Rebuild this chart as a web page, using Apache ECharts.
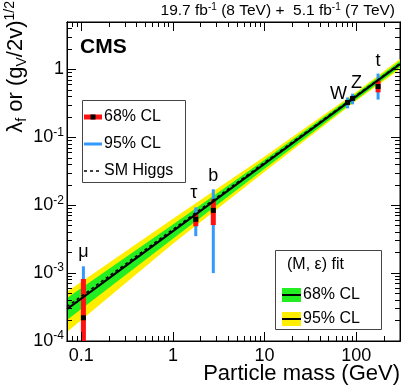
<!DOCTYPE html>
<html>
<head>
<meta charset="utf-8">
<script src="https://cdn.jsdelivr.net/npm/echarts@6/dist/echarts.min.js"></script>
<style>
  html, body { margin: 0; padding: 0; background: #fff; }
  #chart { width: 403px; height: 389px; }
</style>
</head>
<body>
<div id="chart"></div>
<script>
// particle points
var particles = ['μ', 'τ', 'b', 'W', 'Z', 't'];
var masses    = [0.1057, 1.777, 2.76, 80.4, 91.2, 173];
var central   = [2.2e-4, 6.2e-3, 8.4e-3, 0.327, 0.375, 0.56];
var lo68      = [5e-5, 4.9e-3, 5.1e-3, 0.315, 0.36, 0.46];
var hi68      = [8.2e-4, 7.6e-3, 1.22e-2, 0.34, 0.39, 0.69];
var lo95      = [5e-5, 3.5e-3, 1.0e-3, 0.267, 0.306, 0.36];
var hi95      = [1.26e-3, 9.3e-3, 1.72e-2, 0.387, 0.44, 0.87];

// (M, eps) fit bands
var bandX  = [0.07, 1, 10, 100, 300];
var yelHi  = [5.3e-4, 6.3e-3, 0.052, 0.465, 1.42];
var yelLo  = [1.36e-4, 2.7e-3, 0.031, 0.345, 1.01];
var grnHi  = [4.3e-4, 5.2e-3, 0.0466, 0.443, 1.33];
var grnLo  = [2.04e-4, 3.2e-3, 0.0345, 0.362, 1.08];

// lines
var lineX  = [0.07, 300];
var fitY   = [2.95e-4, 1.2];
var smY    = [3.2e-4, 1.22];

// axes
var xMajor = [0.1, 1, 10, 100];
var xMinor = [0.07, 0.08, 0.09, 0.2, 0.3, 0.4, 0.5, 0.6, 0.7, 0.8, 0.9,
              2, 3, 4, 5, 6, 7, 8, 9, 20, 30, 40, 50, 60, 70, 80, 90, 200, 300];
var yMajor = [1e-4, 1e-3, 1e-2, 1e-1, 1];
var yMinor = [2e-4, 3e-4, 4e-4, 5e-4, 6e-4, 7e-4, 8e-4, 9e-4,
              2e-3, 3e-3, 4e-3, 5e-3, 6e-3, 7e-3, 8e-3, 9e-3,
              0.02, 0.03, 0.04, 0.05, 0.06, 0.07, 0.08, 0.09,
              0.2, 0.3, 0.4, 0.5, 0.6, 0.7, 0.8, 0.9, 2, 3, 4, 5];

var FONT = '"Liberation Sans", Arial, Helvetica, sans-serif';

var dom = document.getElementById('chart');
var myChart = echarts.init(dom);

function pairs(xs, ys) {
  var out = [];
  for (var i = 0; i < xs.length; i++) out.push([xs[i], ys[i]]);
  return out;
}

function bandSeries(hi, lo, color) {
  return {
    type: 'custom',
    clip: true,
    silent: true,
    data: [[bandX[0], hi[0]]],
    renderItem: function (params, api) {
      var pts = [];
      for (var i = 0; i < bandX.length; i++) pts.push(api.coord([bandX[i], hi[i]]));
      for (var j = bandX.length - 1; j >= 0; j--) pts.push(api.coord([bandX[j], lo[j]]));
      return { type: 'polygon', shape: { points: pts }, style: { fill: color } };
    }
  };
}

function barSeries(lo, hi, color, width) {
  return {
    type: 'custom',
    clip: true,
    silent: true,
    data: masses.map(function (m, i) { return [m, lo[i], hi[i]]; }),
    renderItem: function (params, api) {
      var a = api.coord([api.value(0), api.value(1)]);
      var b = api.coord([api.value(0), api.value(2)]);
      return { type: 'line', shape: { x1: a[0], y1: a[1], x2: b[0], y2: b[1] },
               style: { stroke: color, lineWidth: width } };
    }
  };
}

// pixel nudges for the particle names (relative to top of the 95% bar)
var labelOffsets = [[0, -5], [-2, -5], [0, -4], [-9, 6], [4, -2], [0, -4]];

function xAxisDef(pos, labels, ticks, len) {
  return {
    type: 'log', min: 0.07, max: 300, position: pos, z: 5,
    axisLine: { show: true, lineStyle: { color: '#000', width: 1 } },
    axisTick: { show: true, inside: true, length: len, customValues: ticks,
                lineStyle: { color: '#000', width: 1 } },
    axisLabel: labels ? { show: true, customValues: xMajor, margin: 6,
                          fontFamily: FONT, fontSize: 18, color: '#000' } : { show: false },
    splitLine: { show: false }
  };
}

function yAxisDef(pos, labels, ticks, len) {
  return {
    type: 'log', min: 1e-4, max: 5, position: pos, z: 5,
    axisLine: { show: true, lineStyle: { color: '#000', width: 1 } },
    axisTick: { show: true, inside: true, length: len, customValues: ticks,
                lineStyle: { color: '#000', width: 1 } },
    axisLabel: labels ? {
      show: true, customValues: yMajor, margin: 3, color: '#000',
      fontFamily: FONT, fontSize: 18,
      formatter: function (v) {
        if (Math.abs(v - 1) < 1e-9) return '{b|1}';
        var e = Math.round(Math.log(v) / Math.LN10);
        return '{b|10}{s|' + e + '}';
      },
      rich: {
        b: { fontFamily: FONT, fontSize: 18, color: '#000' },
        s: { fontFamily: FONT, fontSize: 12, color: '#000', verticalAlign: 'top', padding: [0, 0, 10, 0] }
      }
    } : { show: false },
    splitLine: { show: false }
  };
}

var option = {
  animation: false,
  backgroundColor: '#fff',
  grid: { left: 67, right: 3, top: 22, bottom: 48, containLabel: false,
          show: true, borderColor: '#000', borderWidth: 1 },
  xAxis: [
    xAxisDef('bottom', true, xMajor, 9),
    xAxisDef('bottom', false, xMinor, 5),
    xAxisDef('top', false, xMajor, 9),
    xAxisDef('top', false, xMinor, 5)
  ],
  yAxis: [
    yAxisDef('left', true, yMajor, 9),
    yAxisDef('left', false, yMinor, 5),
    yAxisDef('right', false, yMajor, 9),
    yAxisDef('right', false, yMinor, 5)
  ],
  series: [
    bandSeries(yelHi, yelLo, '#ffee00'),
    bandSeries(grnHi, grnLo, '#22ee22'),
    {
      type: 'line', data: pairs(lineX, fitY), showSymbol: false, silent: true,
      lineStyle: { color: '#000', width: 2 }
    },
    {
      type: 'line', data: pairs(lineX, smY), showSymbol: false, silent: true,
      lineStyle: { color: '#000', width: 1.5, type: [3, 3] }
    },
    barSeries(lo95, hi95, '#3399ff', 3),
    barSeries(lo68, hi68, '#ff1111', 5),
    {
      type: 'custom', clip: false, silent: true,
      data: masses.map(function (m, i) { return [m, central[i], hi95[i], i]; }),
      renderItem: function (params, api) {
        var i = api.value(3);
        var c = api.coord([api.value(0), api.value(1)]);
        var top = api.coord([api.value(0), api.value(2)]);
        var off = labelOffsets[i];
        return {
          type: 'group',
          children: [
            { type: 'rect', shape: { x: c[0] - 2.5, y: c[1] - 2.5, width: 5, height: 5 },
              style: { fill: '#000' } },
            { type: 'text', x: top[0] + off[0], y: top[1] + off[1],
              style: { text: particles[i], fontFamily: FONT, fontSize: 18, fill: '#000',
                       align: 'center', verticalAlign: 'bottom' } }
          ]
        };
      }
    }
  ],
  graphic: [
    // header
    { type: 'text', right: 8, top: 2, style: {
        text: '19.7 fb{s|-1} (8 TeV) +  5.1 fb{s|-1} (7 TeV)', fontFamily: FONT, fontSize: 15.5, fill: '#000',
        rich: { s: { fontFamily: FONT, fontSize: 10, fill: '#000', verticalAlign: 'top', padding: [0, 0, 8, 0] } } } },
    { type: 'text', x: 80, y: 47, style: { text: 'CMS', fontFamily: FONT, fontSize: 21, fontWeight: 'bold',
        fill: '#000', verticalAlign: 'middle' } },
    // y title
    { type: 'text', x: 16, y: 1, rotation: Math.PI / 2, style: {
        text: 'λ{sub|f} or (g{sub|V}/2v){sup|1/2}', fontFamily: FONT, fontSize: 22, fill: '#000',
        align: 'right', verticalAlign: 'middle',
        rich: {
          sub: { fontFamily: FONT, fontSize: 14, fill: '#000', padding: [12, 0, 0, 0] },
          sup: { fontFamily: FONT, fontSize: 14, fill: '#000', padding: [0, 0, 12, 0] }
        } } },
    // x title
    { type: 'text', right: 3, top: 363, style: { text: 'Particle mass (GeV)', fontFamily: FONT,
        fontSize: 22, fill: '#000' } },
    // legend 1
    { type: 'rect', shape: { x: 82.5, y: 100.5, width: 103, height: 82 },
      style: { fill: '#fff', stroke: '#444', lineWidth: 1 } },
    { type: 'line', shape: { x1: 84, y1: 117, x2: 102, y2: 117 }, style: { stroke: '#ff1111', lineWidth: 5 } },
    { type: 'rect', shape: { x: 90.5, y: 114.5, width: 5, height: 5 }, style: { fill: '#000' } },
    { type: 'text', x: 104, y: 117, style: { text: '68% CL', fontFamily: FONT, fontSize: 16, fill: '#000', verticalAlign: 'middle' } },
    { type: 'line', shape: { x1: 84, y1: 144, x2: 102, y2: 144 }, style: { stroke: '#3399ff', lineWidth: 3 } },
    { type: 'text', x: 104, y: 144, style: { text: '95% CL', fontFamily: FONT, fontSize: 16, fill: '#000', verticalAlign: 'middle' } },
    { type: 'line', shape: { x1: 84, y1: 171, x2: 102, y2: 171 }, style: { stroke: '#000', lineWidth: 1.5, lineDash: [3, 3] } },
    { type: 'text', x: 104, y: 171, style: { text: 'SM Higgs', fontFamily: FONT, fontSize: 16, fill: '#000', verticalAlign: 'middle' } },
    // legend 2
    { type: 'rect', shape: { x: 275.5, y: 250.5, width: 106, height: 79 },
      style: { fill: '#fff', stroke: '#444', lineWidth: 1 } },
    { type: 'text', x: 287, y: 265, style: { text: '(M, ε) fit', fontFamily: FONT, fontSize: 16, fill: '#000', verticalAlign: 'middle' } },
    { type: 'rect', shape: { x: 282, y: 288, width: 19, height: 14 }, style: { fill: '#22ee22' } },
    { type: 'line', shape: { x1: 282, y1: 295, x2: 301, y2: 295 }, style: { stroke: '#000', lineWidth: 2 } },
    { type: 'text', x: 303, y: 295, style: { text: '68% CL', fontFamily: FONT, fontSize: 16, fill: '#000', verticalAlign: 'middle' } },
    { type: 'rect', shape: { x: 282, y: 312, width: 19, height: 14 }, style: { fill: '#ffee00' } },
    { type: 'line', shape: { x1: 282, y1: 319, x2: 301, y2: 319 }, style: { stroke: '#000', lineWidth: 2 } },
    { type: 'text', x: 303, y: 319, style: { text: '95% CL', fontFamily: FONT, fontSize: 16, fill: '#000', verticalAlign: 'middle' } }
  ]
};

if (option && typeof option === 'object') {
  myChart.setOption(option, true);
}
</script>
</body>
</html>
